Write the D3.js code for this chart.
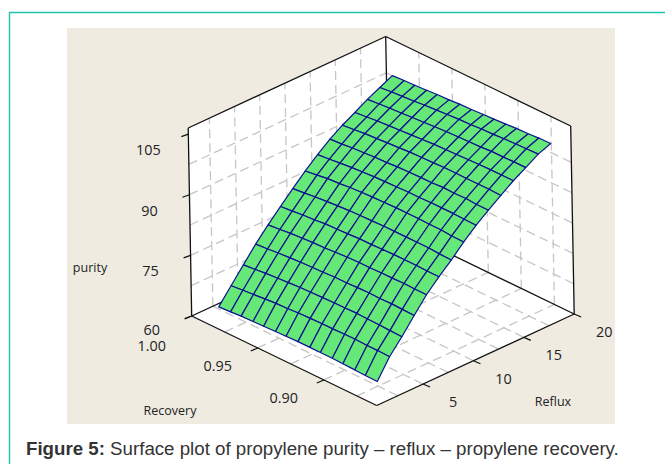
<!DOCTYPE html>
<html lang="en">
<head>
<meta charset="UTF-8">
<title>Surface plot of propylene purity</title>
<style>
    html, body { margin: 0; padding: 0; background: #fff; }
    svg { display: block; }
    .tick-label { font: 14.4px "Open Sans", sans-serif; fill: #222; text-anchor: middle; }
    .axis-name { font: 12.5px "Open Sans", sans-serif; fill: #222; text-anchor: middle; }
    .caption { font: 18.7px "Liberation Sans", Arial, sans-serif; fill: #333; }
</style>
</head>
<body>
<div id="chart"></div>
<script src="https://d3js.org/d3.v7.min.js"></script>
<script>
// Values
const refluxLevels = [0.5, 1.75, 3, 4.25, 5.5, 6.75, 8, 9.25, 10.5, 11.75, 13, 14.25, 15.5, 16.75, 18];
const recoveryLevels = [0.98, 0.971, 0.963, 0.954, 0.946, 0.937, 0.929, 0.92, 0.911, 0.903, 0.894, 0.886, 0.877, 0.869, 0.86];
// one row per reflux level, one column per recovery level
const purity = [
    [65.3, 65.5, 65.7, 65.8, 65.9, 66.0, 66.1, 66.2, 66.2, 66.2, 66.2, 66.1, 66.0, 65.9, 65.8],
    [69.1, 69.4, 69.6, 69.9, 70.1, 70.2, 70.4, 70.5, 70.6, 70.6, 70.7, 70.7, 70.6, 70.6, 70.5],
    [72.8, 73.1, 73.4, 73.6, 73.8, 74.0, 74.1, 74.2, 74.3, 74.3, 74.4, 74.3, 74.2, 74.1, 74.0],
    [76.5, 76.7, 77.0, 77.2, 77.4, 77.5, 77.6, 77.8, 77.8, 77.9, 78.0, 77.9, 78.0, 77.9, 77.8],
    [79.8, 80.1, 80.4, 80.6, 80.8, 80.9, 81.1, 81.3, 81.4, 81.4, 81.5, 81.5, 81.6, 81.5, 81.5],
    [82.9, 83.2, 83.5, 83.7, 84.0, 84.1, 84.2, 84.4, 84.4, 84.5, 84.6, 84.6, 84.6, 84.5, 84.5],
    [85.9, 86.2, 86.5, 86.8, 87.0, 87.2, 87.3, 87.4, 87.5, 87.5, 87.5, 87.5, 87.5, 87.3, 87.2],
    [88.8, 89.2, 89.6, 89.8, 90.1, 90.3, 90.4, 90.5, 90.6, 90.6, 90.6, 90.5, 90.5, 90.3, 90.2],
    [91.4, 91.7, 92.0, 92.3, 92.5, 92.7, 92.8, 92.9, 93.0, 93.0, 93.1, 93.1, 93.1, 93.0, 92.9],
    [93.8, 94.0, 94.3, 94.5, 94.7, 94.8, 95.0, 95.1, 95.2, 95.2, 95.4, 95.3, 95.4, 95.2, 95.2],
    [95.8, 96.1, 96.4, 96.6, 96.8, 97.0, 97.2, 97.3, 97.4, 97.5, 97.5, 97.5, 97.5, 97.5, 97.4],
    [97.5, 97.8, 98.1, 98.3, 98.5, 98.7, 98.9, 99.1, 99.2, 99.3, 99.4, 99.5, 99.6, 99.6, 99.6],
    [99.3, 99.6, 99.8, 100.0, 100.2, 100.4, 100.6, 100.8, 100.9, 101.0, 101.1, 101.3, 101.3, 101.4, 101.4],
    [100.8, 101.1, 101.3, 101.5, 101.8, 102.0, 102.2, 102.4, 102.5, 102.7, 102.8, 103.0, 103.1, 103.2, 103.3],
    [102.3, 102.5, 102.6, 102.8, 103.0, 103.1, 103.3, 103.4, 103.6, 103.7, 103.9, 104.1, 104.2, 104.4, 104.5]
];
const refluxTicks = [5, 10, 15, 20];
const recoveryTicks = [1.00, 0.95, 0.90];
const purityTicks = [60, 75, 90, 105];
const refluxGrid = [2.5, 5, 7.5, 10, 12.5, 15, 17.5];
const recoveryGrid = [0.975, 0.95, 0.925, 0.9, 0.875];
const purityGrid = [67.5, 75, 82.5, 90, 97.5];

const width = 665, height = 464;
const refluxMin = 0.4, refluxMax = 20, recoveryHi = 1.0, recoveryLo = 0.86, purityMin = 60, purityMax = 106.5;

// Each axis runs along one edge of the box, the three add up to the screen position
const frontCorner = [376.7, 405.5];
const refluxX = d3.scaleLinear().domain([refluxMin, refluxMax]).range([0, 197.5]);
const refluxY = d3.scaleLinear().domain([refluxMin, refluxMax]).range([0, -91.5]);
const recoveryX = d3.scaleLinear().domain([recoveryLo, recoveryHi]).range([0, -185]);
const recoveryY = d3.scaleLinear().domain([recoveryLo, recoveryHi]).range([0, -89.5]);
const purityX = d3.scaleLinear().domain([purityMin, purityMax]).range([0, -3.5]);
const purityY = d3.scaleLinear().domain([purityMin, purityMax]).range([0, -188]);

function project(reflux, recovery, z) {
    return [
        frontCorner[0] + refluxX(reflux) + recoveryX(recovery) + purityX(z),
        frontCorner[1] + refluxY(reflux) + recoveryY(recovery) + purityY(z)
    ];
}

const line = d3.line();

const svg = d3.select("#chart").append("svg")
    .attr("width", width)
    .attr("height", height);

// Page frame
svg.append("path").attr("d", "M9.5,464V12.5H665").attr("fill", "none").attr("stroke", "#1cc4a8").attr("stroke-width", 1.4);
svg.append("rect").attr("x", 67).attr("y", 28).attr("width", 548).attr("height", 396).attr("fill", "#efebe1");

// White box faces
const faces = [
    [[refluxMin, recoveryHi, purityMin], [refluxMax, recoveryHi, purityMin], [refluxMax, recoveryHi, purityMax], [refluxMin, recoveryHi, purityMax]],
    [[refluxMax, recoveryHi, purityMin], [refluxMax, recoveryLo, purityMin], [refluxMax, recoveryLo, purityMax], [refluxMax, recoveryHi, purityMax]],
    [[refluxMin, recoveryHi, purityMin], [refluxMin, recoveryLo, purityMin], [refluxMax, recoveryLo, purityMin], [refluxMax, recoveryHi, purityMin]]
];
svg.selectAll(".face").data(faces).enter().append("path")
    .attr("class", "face")
    .attr("d", d => line(d.map(p => project(...p))) + "Z")
    .attr("fill", "#fff");

// Dashed grid on the walls and floor
const gridLines = [];
refluxGrid.forEach(r => {
    gridLines.push([[r, recoveryHi, purityMin], [r, recoveryHi, purityMax]]);
    gridLines.push([[r, recoveryHi, purityMin], [r, recoveryLo, purityMin]]);
});
recoveryGrid.forEach(r => {
    gridLines.push([[refluxMax, r, purityMin], [refluxMax, r, purityMax]]);
    gridLines.push([[refluxMin, r, purityMin], [refluxMax, r, purityMin]]);
});
purityGrid.forEach(z => {
    gridLines.push([[refluxMin, recoveryHi, z], [refluxMax, recoveryHi, z]]);
    gridLines.push([[refluxMax, recoveryHi, z], [refluxMax, recoveryLo, z]]);
});
svg.selectAll(".grid").data(gridLines).enter().append("path")
    .attr("class", "grid")
    .attr("d", d => line(d.map(p => project(...p))))
    .attr("fill", "none")
    .attr("stroke", "#c6c6c6")
    .attr("stroke-width", 1.3)
    .attr("stroke-dasharray", "9,5");

// Box edges
const boxEdges = [
    [[refluxMin, recoveryHi, purityMin], [refluxMin, recoveryHi, purityMax]],
    [[refluxMin, recoveryHi, purityMax], [refluxMax, recoveryHi, purityMax]],
    [[refluxMax, recoveryHi, purityMax], [refluxMax, recoveryLo, purityMax]],
    [[refluxMax, recoveryLo, purityMax], [refluxMax, recoveryLo, purityMin]],
    [[refluxMax, recoveryHi, purityMax], [refluxMax, recoveryHi, purityMin]],
    [[refluxMin, recoveryHi, purityMin], [refluxMax, recoveryHi, purityMin]],
    [[refluxMax, recoveryHi, purityMin], [refluxMax, recoveryLo, purityMin]],
    [[refluxMin, recoveryHi, purityMin], [refluxMin, recoveryLo, purityMin]],
    [[refluxMin, recoveryLo, purityMin], [refluxMax, recoveryLo, purityMin]]
];
svg.selectAll(".edge").data(boxEdges).enter().append("path")
    .attr("class", "edge")
    .attr("d", d => line(d.map(p => project(...p))))
    .attr("fill", "none")
    .attr("stroke", "#111")
    .attr("stroke-width", 1.3);

// Surface cells, far ones first
const cells = [];
for (let i = refluxLevels.length - 2; i >= 0; i--) {
    for (let j = 0; j < recoveryLevels.length - 1; j++) {
        cells.push([
            project(refluxLevels[i], recoveryLevels[j], purity[i][j]),
            project(refluxLevels[i + 1], recoveryLevels[j], purity[i + 1][j]),
            project(refluxLevels[i + 1], recoveryLevels[j + 1], purity[i + 1][j + 1]),
            project(refluxLevels[i], recoveryLevels[j + 1], purity[i][j + 1])
        ]);
    }
}
svg.selectAll(".cell").data(cells).enter().append("path")
    .attr("class", "cell")
    .attr("d", d => line(d) + "Z")
    .attr("fill", "#66e878")
    .attr("stroke", "#0b1190")
    .attr("stroke-width", 1.2)
    .attr("stroke-linejoin", "round");

// Ticks
function tick(from, dx, dy) {
    svg.append("line")
        .attr("x1", from[0]).attr("y1", from[1])
        .attr("x2", from[0] + dx).attr("y2", from[1] + dy)
        .attr("stroke", "#111").attr("stroke-width", 1.2);
}
function label(pos, text, cls) {
    svg.append("text").attr("class", cls).attr("x", pos[0]).attr("y", pos[1]).text(text);
}
purityTicks.forEach(z => {
    const p = project(refluxMin, recoveryHi, z);
    tick(p, -7, 2.5);
    // the 60 is pushed up a little so it clears the 1.00 below it
    label([p[0] - 40, p[1] + (z === 60 ? 19 : 21)], z, "tick-label");
});
recoveryTicks.forEach(r => {
    const p = project(refluxMin, r, purityMin);
    tick(p, -7, 3);
    // the 1.00 label sits lower, right under the 60
    label([p[0] - 40, p[1] + (r === 1 ? 35 : 23)], r.toFixed(2), "tick-label");
});
refluxTicks.forEach(r => {
    const p = project(r, recoveryLo, purityMin);
    tick(p, 7, 3);
    label([p[0] + 30, p[1] + 23], r, "tick-label");
});

label([90, 272], "purity", "axis-name");
label([170, 415], "Recovery", "axis-name");
label([553, 406], "Reflux", "axis-name");

// Caption
const caption = svg.append("text").attr("class", "caption").attr("x", 26).attr("y", 455);
caption.append("tspan").attr("font-weight", "bold").text("Figure 5:");
caption.append("tspan").text(" Surface plot of propylene purity \u2013 reflux \u2013 propylene recovery.");
</script>
</body>
</html>
